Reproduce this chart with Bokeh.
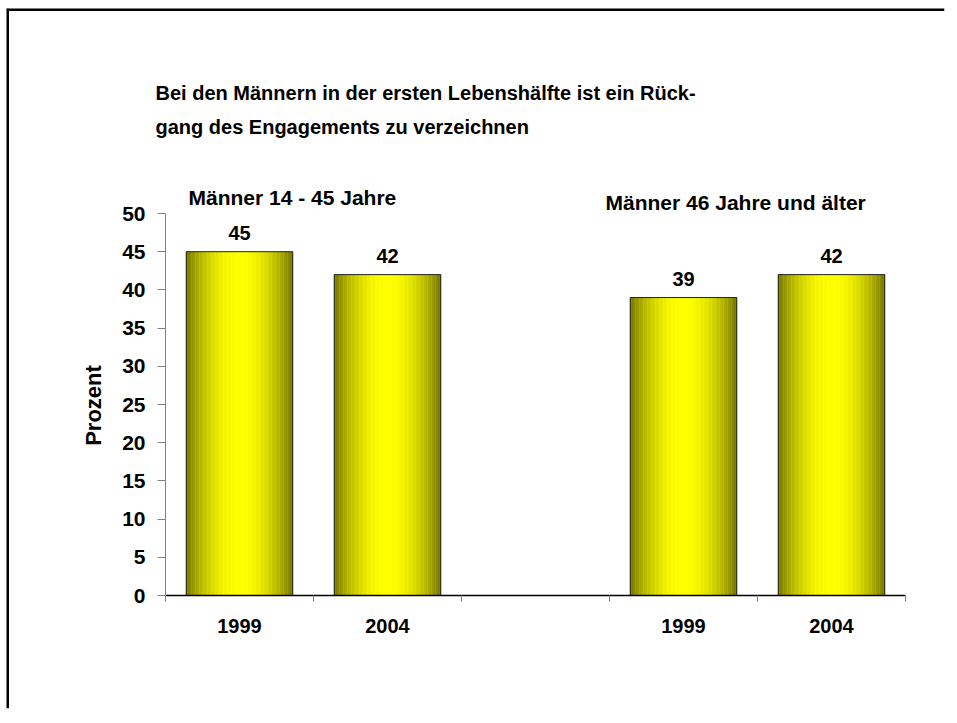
import math
from bokeh.plotting import figure
from bokeh.models import (ColumnDataSource, Range1d, FixedTicker, Label, LabelSet, Span)
from bokeh.core.properties import value
from bokeh.embed import file_html
from bokeh.resources import INLINE

# ---- data ----
categories = ["1999", "2004", "", "1999", "2004"]
values = [45, 42, None, 39, 42]
group_titles = ["Männer 14 - 45 Jahre", "Männer 46 Jahre und älter"]
title_lines = ["Bei den Männern in der ersten Lebenshälfte ist ein Rück-",
               "gang des Engagements zu verzeichnen"]
y_ticks = [0, 5, 10, 15, 20, 25, 30, 35, 40, 45, 50]
y_max = 50
y_label = "Prozent"

FONT = "Liberation Sans"
PX_PER_Y = 7.64      # frame pixels per y unit
PX_PER_X = 148.0     # frame pixels per category
OX, OY = 6, 8        # canvas origin on page
W, H = 950, 714
Y0_PAGE = 595        # page y of value 0
X0_PAGE = 165        # page x of first category boundary
MB_RIGHT, MB_BOTTOM = 12, 14

frame_left_page = OX
frame_right_page = OX + W - MB_RIGHT
frame_top_page = OY
frame_bottom_page = OY + H - MB_BOTTOM

x_start = (frame_left_page - X0_PAGE) / PX_PER_X
x_end = (frame_right_page - X0_PAGE) / PX_PER_X
y_start = (Y0_PAGE - frame_bottom_page) / PX_PER_Y
y_end = (Y0_PAGE - frame_top_page) / PX_PER_Y

p = figure(width=W, height=H, output_backend="svg", toolbar_location=None,
           x_range=Range1d(x_start, x_end), y_range=Range1d(y_start, y_end),
           y_axis_location="right",
           min_border_left=0, min_border_right=MB_RIGHT, min_border_top=0,
           min_border_bottom=MB_BOTTOM)
p.styles = {"margin": "%dpx 0px 0px %dpx" % (OY, OX)}
p.outline_line_color = None
p.xgrid.visible = False
p.ygrid.visible = False
p.background_fill_color = "white"
p.border_fill_color = "white"


def dy(page_y):
    return (Y0_PAGE - page_y) / PX_PER_Y


def dx(page_x):
    return (page_x - X0_PAGE) / PX_PER_X


# page frame (left and top edges)
p.add_layout(Span(location=dx(OX + 1), dimension="height", line_color="black",
                  line_width=3))
p.add_layout(Span(location=dy(OY + 1), dimension="width", line_color="black",
                  line_width=3))

# bar positions from categories
idx = [i for i, v in enumerate(values) if v is not None]
centers = [i + 0.5 for i in idx]
vals = [values[i] for i in idx]
bar_w = 0.72

# gradient strips
N = 80
sx, stop, sc = [], [], []
for c, v in zip(centers, vals):
    for k in range(N):
        t = (k + 0.5) / N
        b = 0.43 + 0.57 * math.sin(math.pi * t) ** 0.8
        col = "#%02x%02x00" % (int(255 * b), int(255 * b))
        sx.append(c - bar_w / 2 + t * bar_w)
        stop.append(v)
        sc.append(col)
strips = ColumnDataSource(dict(x=sx, top=stop, color=sc))
p.vbar(x="x", top="top", bottom=0, width=bar_w / N * 1.3, fill_color="color",
       line_color=None, source=strips)

bars = ColumnDataSource(dict(x=centers, top=vals, label=[str(v) for v in vals]))
p.vbar(x="x", top="top", bottom=0, width=bar_w, fill_color=None,
       line_color="#222222", line_width=1, source=bars)

p.add_layout(LabelSet(x="x", y="top", text="label", source=bars, y_offset=12,
                      text_align="center", text_baseline="alphabetic",
                      text_font=value(FONT), text_font_style="bold",
                      text_font_size="20px", text_color="black"))

# x axis (fixed at y = 0): line and boundary ticks
xa = p.xaxis[0]
xa.fixed_location = 0
xa.bounds = (0, len(categories))
xa.ticker = FixedTicker(ticks=[i + 0.5 for i in range(len(categories))],
                        minor_ticks=list(range(len(categories) + 1)))
xa.major_label_overrides = {i + 0.5: "" for i in range(len(categories))}
xa.major_label_text_font_size = "0px"
xa.major_label_standoff = 0
xa.major_tick_out = 0
xa.major_tick_in = 0
xa.minor_tick_out = 6
xa.minor_tick_in = 0
xa.minor_tick_line_color = "#808080"
xa.axis_line_color = "black"
xa.axis_line_width = 1.5

# category labels below the axis
cat_src = ColumnDataSource(dict(x=[i + 0.5 for i in range(len(categories))],
                                y=[0] * len(categories), text=categories))
p.add_layout(LabelSet(x="x", y="y", text="text", source=cat_src, y_offset=-37,
                      text_align="center", text_baseline="alphabetic",
                      text_font=value(FONT), text_font_style="bold",
                      text_font_size="20px", text_color="black"))

# y axis (fixed at x = 0): line and ticks pointing left
ya = p.yaxis[0]
ya.fixed_location = 0
ya.bounds = (0, y_max)
ya.ticker = FixedTicker(ticks=y_ticks)
ya.major_label_overrides = {t: "" for t in y_ticks}
ya.major_label_text_font_size = "0px"
ya.major_label_standoff = 0
ya.minor_tick_line_color = None
ya.major_tick_out = 0
ya.major_tick_in = 8
ya.major_tick_line_color = "#808080"
ya.axis_line_color = "#808080"

# y tick labels
ytick_src = ColumnDataSource(dict(x=[0] * len(y_ticks), y=y_ticks,
                                  text=[str(t) for t in y_ticks]))
p.add_layout(LabelSet(x="x", y="y", text="text", source=ytick_src, x_offset=-20,
                      text_align="right", text_baseline="middle",
                      text_font=value(FONT), text_font_style="bold",
                      text_font_size="21px", text_color="black"))

# titles and axis label (positions in data units)
BASE_FIX = 7
for txt, y in zip(title_lines, [99, 133]):
    p.add_layout(Label(x=dx(155), y=dy(y - BASE_FIX), text=txt, text_font=FONT,
                       text_font_style="bold", text_font_size="20px",
                       text_baseline="alphabetic", text_color="black"))
for txt, x, y in zip(group_titles, [188, 605], [204, 209]):
    p.add_layout(Label(x=dx(x), y=dy(y - BASE_FIX), text=txt, text_font=FONT,
                       text_font_style="bold", text_font_size="21px",
                       text_baseline="alphabetic", text_color="black"))
p.add_layout(Label(x=dx(93), y=dy(405), text=y_label, angle=math.pi / 2,
                   text_align="center", text_baseline="middle", text_font=FONT,
                   text_font_style="bold", text_font_size="22px",
                   text_color="black"))

open("out.html", "w").write(file_html(p, INLINE))
